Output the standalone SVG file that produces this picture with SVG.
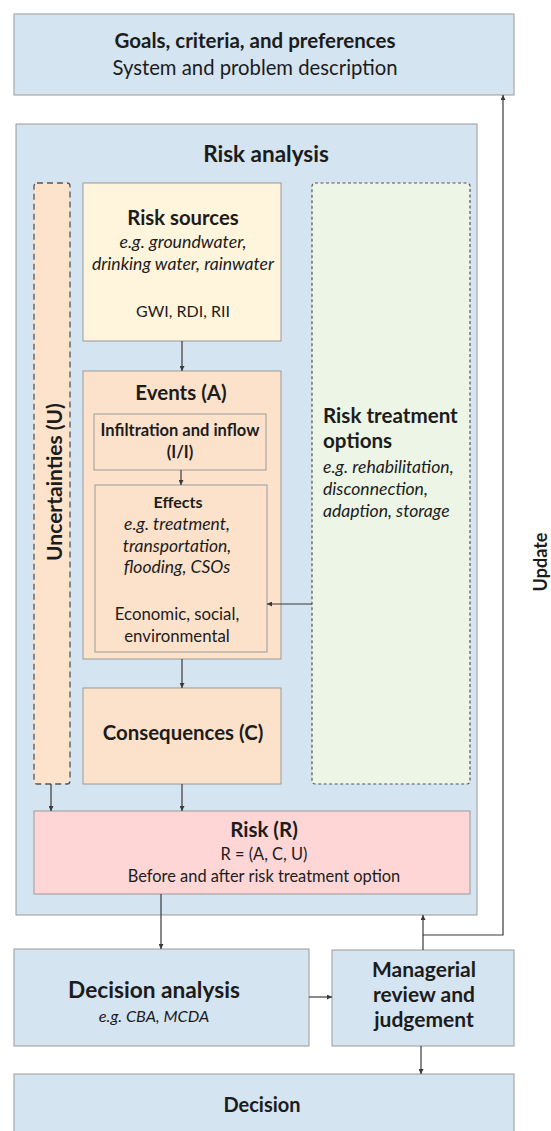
<svg xmlns="http://www.w3.org/2000/svg" width="551" height="1131" viewBox="0 0 551 1131">
<style>
text{font-family:Lato,"Open Sans","Liberation Sans",sans-serif;fill:#1c1c1c;text-anchor:middle}
.b{font-weight:bold}
.i{font-style:italic}
.l{text-anchor:start}
.box{stroke:#9a9a9a;stroke-width:1}
.blue{fill:#d5e4f1}
.conn{stroke:#3a3a3a;stroke-width:1.2;fill:none}
</style>
<defs>
<marker id="ah" viewBox="0 0 10 10" refX="10" refY="5" markerWidth="5" markerHeight="5" orient="auto" markerUnits="userSpaceOnUse">
<path d="M0,0 L10,5 L0,10 z" fill="#3a3a3a"/>
</marker>
</defs>
<rect x="0" y="0" width="551" height="1131" fill="#ffffff"/>

<g id="goals">
<rect class="box blue" x="14" y="14" width="500" height="81"/>
<text class="b" x="255" y="48" font-size="20.5">Goals, criteria, and preferences</text>
<text x="255" y="75" font-size="20.3">System and problem description</text>
</g>

<g id="risk-analysis">
<rect class="box blue" x="16" y="124" width="461" height="791"/>
<text class="b" x="266" y="162" font-size="22.5">Risk analysis</text>
</g>

<g id="uncertainties">
<rect x="34" y="183" width="36" height="601" rx="3" fill="#fde3cc" stroke="#555" stroke-width="1.3" stroke-dasharray="6,4"/>
<text class="b" transform="translate(61.5,482) rotate(-90)" font-size="21">Uncertainties (U)</text>
</g>

<g id="risk-sources">
<rect class="box" x="83" y="183" width="198" height="158" fill="#fff4dc"/>
<text class="b" x="183" y="225" font-size="20.3">Risk sources</text>
<text class="i" x="183" y="248" font-size="17.8">e.g. groundwater,</text>
<text class="i" x="183" y="270" font-size="17.6">drinking water, rainwater</text>
<text x="183" y="317" font-size="16">GWI, RDI, RII</text>
</g>

<g id="events">
<rect class="box" x="83" y="371" width="198" height="288" fill="#fce2cb"/>
<text class="b" x="181" y="400" font-size="20.5">Events (A)</text>
</g>

<g id="infiltration">
<rect class="box" x="94" y="414" width="172" height="56" fill="#fce2cb"/>
<text class="b" x="180" y="436" font-size="16.5">Infiltration and inflow</text>
<text class="b" x="180" y="458" font-size="16.5">(I/I)</text>
</g>

<g id="effects">
<rect class="box" x="95" y="485" width="172" height="167" fill="#fce2cb"/>
<text class="b" x="178" y="508" font-size="16">Effects</text>
<text class="i" x="177" y="530" font-size="17.5">e.g. treatment,</text>
<text class="i" x="177" y="552" font-size="17.5">transportation,</text>
<text class="i" x="177" y="573" font-size="17.5">flooding, CSOs</text>
<text x="177" y="620" font-size="16.8">Economic, social,</text>
<text x="177" y="642" font-size="16.8">environmental</text>
</g>

<g id="treatment">
<rect x="312" y="183" width="158" height="601" rx="3" fill="#edf5e6" stroke="#555" stroke-width="1.2" stroke-dasharray="3,2.5"/>
<text class="b l" x="323" y="423" font-size="20.6">Risk treatment</text>
<text class="b l" x="323" y="448" font-size="20.6">options</text>
<text class="i l" x="323" y="473" font-size="17.6">e.g. rehabilitation,</text>
<text class="i l" x="323" y="495" font-size="17.6">disconnection,</text>
<text class="i l" x="323" y="517" font-size="17.6">adaption, storage</text>
</g>

<g id="consequences">
<rect class="box" x="83" y="688" width="198" height="96" fill="#fce2cb"/>
<text class="b" x="183" y="740" font-size="20.4">Consequences (C)</text>
</g>

<g id="risk">
<rect class="box" x="34" y="811" width="436" height="83" fill="#fdd6d5"/>
<text class="b" x="264" y="837" font-size="20.5">Risk (R)</text>
<text x="264" y="860" font-size="16.4">R = (A, C, U)</text>
<text x="264" y="882" font-size="16.4">Before and after risk treatment option</text>
</g>

<g id="decision-analysis">
<rect class="box blue" x="14" y="949" width="295" height="97"/>
<text class="b" x="154" y="998" font-size="22.7">Decision analysis</text>
<text class="i" x="154" y="1022" font-size="16.3">e.g. CBA, MCDA</text>
</g>

<g id="managerial">
<rect class="box blue" x="332" y="950" width="182" height="96"/>
<text class="b" x="424" y="977" font-size="21">Managerial</text>
<text class="b" x="424" y="1002" font-size="21">review and</text>
<text class="b" x="424" y="1027" font-size="21">judgement</text>
</g>

<g id="decision">
<rect class="box blue" x="14" y="1074" width="500" height="70"/>
<text class="b" x="262" y="1112" font-size="20">Decision</text>
</g>

<g id="update-label">
<text class="b" transform="translate(547,562) rotate(-90)" font-size="18">Update</text>
</g>

<g id="connectors">
<line class="conn" x1="182" y1="341" x2="182" y2="371" marker-end="url(#ah)"/>
<line class="conn" x1="181" y1="470" x2="181" y2="485" marker-end="url(#ah)"/>
<line class="conn" x1="312" y1="604" x2="267" y2="604" marker-end="url(#ah)"/>
<line class="conn" x1="182" y1="659" x2="182" y2="688" marker-end="url(#ah)"/>
<line class="conn" x1="51" y1="784" x2="51" y2="811" marker-end="url(#ah)"/>
<line class="conn" x1="182" y1="784" x2="182" y2="811" marker-end="url(#ah)"/>
<line class="conn" x1="161" y1="894" x2="161" y2="949" marker-end="url(#ah)"/>
<line class="conn" x1="309" y1="997" x2="332" y2="997" marker-end="url(#ah)"/>
<line class="conn" x1="421" y1="1046" x2="421" y2="1074" marker-end="url(#ah)"/>
<line class="conn" x1="423" y1="950" x2="423" y2="915" marker-end="url(#ah)"/>
<polyline class="conn" points="423,935 503,935 503,95" marker-end="url(#ah)"/>
</g>
</svg>
